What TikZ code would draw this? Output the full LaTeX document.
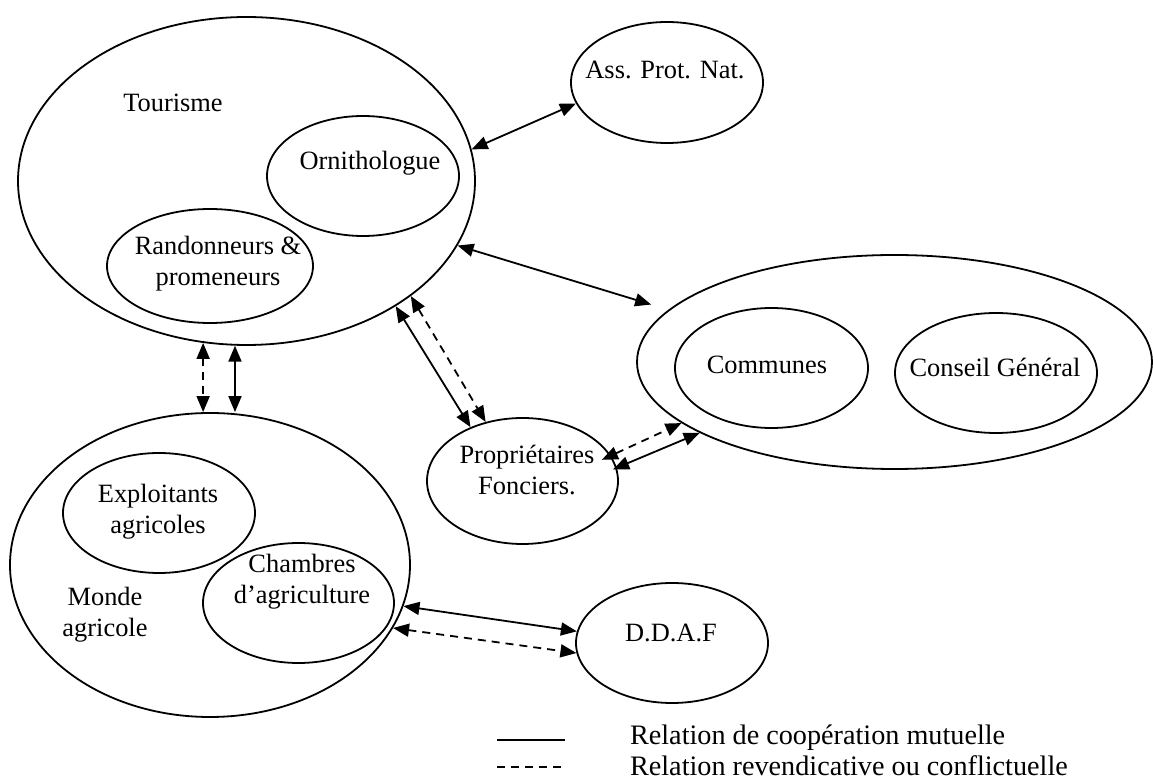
\documentclass[tikz,border=0pt]{standalone}
\usepackage{fontspec}
\setmainfont{Liberation Serif}
\usetikzlibrary{arrows.meta, shapes.geometric}

\begin{document}
\begin{tikzpicture}[
  x=0.5pt, y=-0.5pt,
  zone/.style={draw, ellipse, line width=0.9pt, inner sep=0pt},
  coop/.style={{Triangle[length=8pt,width=6.5pt]}-{Triangle[length=8pt,width=6.5pt]}, line width=0.9pt},
  conf/.style={coop, dash pattern=on 4pt off 3pt},
  txt/.style={font=\fontsize{13.2}{15.5}\selectfont, align=center},
  legtxt/.style={font=\fontsize{14.1}{16}\selectfont, anchor=west}
]
\useasboundingbox (0,0) rectangle (1153,780);

% ensembles
\node[zone, minimum width=228.5pt, minimum height=164pt] (tour) at (246.5,181) {};
\node[zone, minimum width=96pt, minimum height=60pt] (orni) at (363,176) {};
\node[zone, minimum width=103pt, minimum height=57pt] (rando) at (210,266) {};
\node[zone, minimum width=96pt, minimum height=60.5pt] (ass) at (667,82.5) {};
\node[zone, minimum width=257.5pt, minimum height=107pt] (coll) at (894.5,362) {};
\node[zone, minimum width=96.5pt, minimum height=60pt] (communes) at (771.5,368) {};
\node[zone, minimum width=101pt, minimum height=60pt] (conseil) at (996,373) {};
\node[zone, minimum width=95.5pt, minimum height=63pt] (prop) at (522.5,481) {};
\node[zone, minimum width=200pt, minimum height=152pt] (monde) at (210,565) {};
\node[zone, minimum width=96pt, minimum height=60pt] (expl) at (159,513) {};
\node[zone, minimum width=95.5pt, minimum height=60pt] (chamb) at (298.5,603) {};
\node[zone, minimum width=96pt, minimum height=60pt] (ddaf) at (672,643) {};

% textes
\node[txt] (tTour) at (173,103) {Tourisme};
\node[txt] (tOrni) at (370,163) {Ornithologue};
\node[txt] (tRando) at (218,264) {Randonneurs \&\\promeneurs};
\node[txt] (tAss) at (665,70) {Ass. Prot. Nat.};
\node[txt] (tCommunes) at (767,365) {Communes};
\node[txt] (tConseil) at (995,367) {Conseil Général};
\node[txt] (tProp) at (527,470) {Propriétaires\\Fonciers.};
\node[txt] (tExpl) at (158,512) {Exploitants\\agricoles};
\node[txt] (tChamb) at (302,582) {Chambres\\d'agriculture};
\node[txt] (tMonde) at (105,615) {Monde\\agricole};
\node[txt] (tDdaf) at (671,633) {D.D.A.F};

% relations
\draw[coop] (tour.8) -- (ass.193);
\draw[coop, shorten >=9pt] (tour.-17) -- (coll.167);
\draw[coop] (tour.-40) -- (prop.134);
\draw[conf] (tour.-35) -- (prop.122);
\draw[conf] (tour.-105) -- (tour.-105 |- monde.north);
\draw[coop] (tour.-94) -- (tour.-94 |- monde.north);
\draw[conf, shorten <=-5pt] (prop.16) -- (coll.196);
\draw[coop, shorten <=-2pt] (prop.8) -- (coll.200);
\draw[coop] (monde.-12) -- (ddaf.173);
\draw[conf] (monde.-19) -- (ddaf.186);

% legende
\coordinate (l1a) at (497,740);
\coordinate (l1b) at (565,740);
\coordinate (l2a) at (497,767);
\coordinate (l2b) at (565,767);
\draw[line width=0.9pt] (l1a) -- (l1b);
\draw[line width=0.9pt, dash pattern=on 4pt off 3pt] (l2a) -- (l2b);
\node[legtxt] (leg1) at (623,738) {Relation de coopération mutuelle};
\node[legtxt] (leg2) at (623,766) {Relation revendicative ou conflictuelle};
\end{tikzpicture}
\end{document}
